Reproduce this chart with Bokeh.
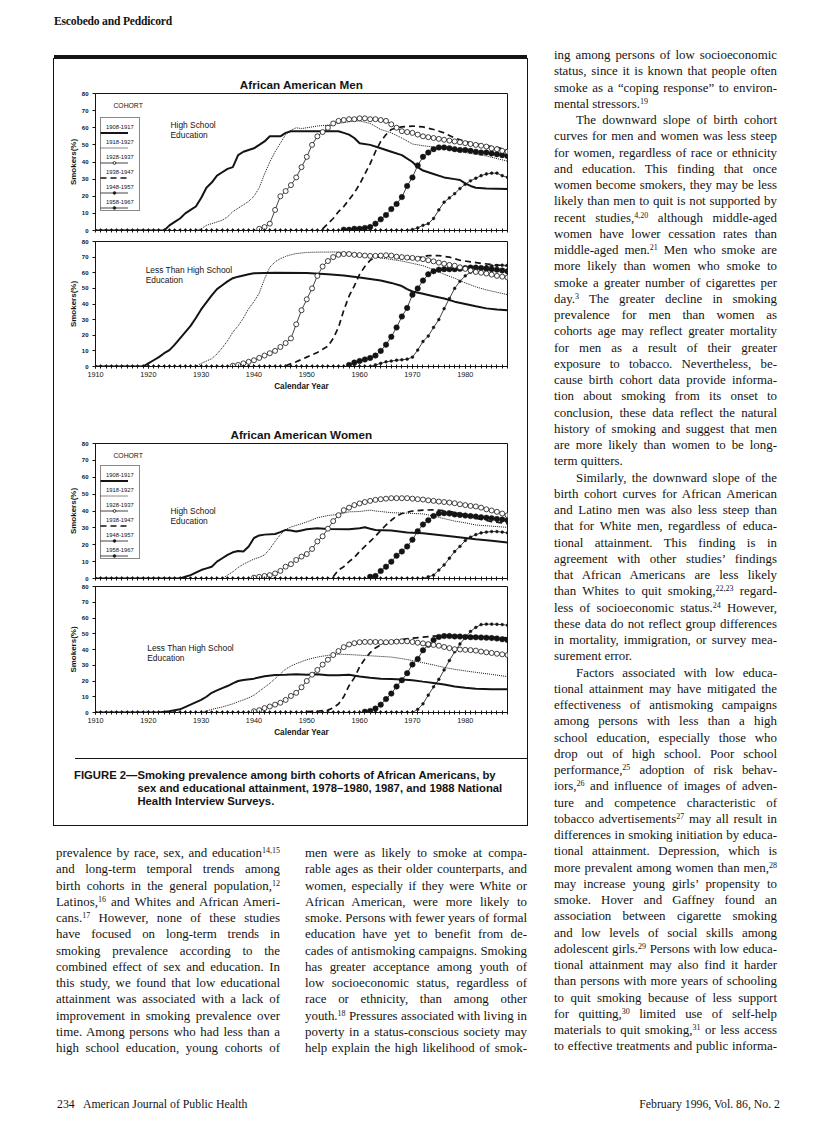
from bokeh.plotting import figure
from bokeh.models import Range1d, FixedTicker, Legend, LegendItem, Label, Div, Spacer
from bokeh.layouts import column, row
from bokeh.embed import file_html
from bokeh.resources import INLINE

INK = "#141414"
SANS = "Liberation Sans"
SERIF = "Liberation Serif"

# ---------------- chart data ----------------
YEARS = list(range(1910, 1989))
X_LABEL_TICKS = [1910, 1920, 1930, 1940, 1950, 1960, 1970, 1980]
Y_TICKS = [0, 10, 20, 30, 40, 50, 60, 70, 80]
COHORTS = ["1908-1917", "1918-1927", "1928-1937", "1938-1947", "1948-1957", "1958-1967"]

# ---- African American men, high school education ----
MEN_HS_1908 = [(1910, 0), (1923, 0), (1924, 3), (1925, 5), (1926, 7), (1927, 10), (1928, 12), (1929, 14),
               (1930, 19), (1931, 25), (1932, 28), (1933, 32), (1934, 34), (1935, 36), (1936, 37), (1937, 44),
               (1938, 46), (1939, 47), (1940, 48), (1941, 50), (1942, 52), (1943, 55), (1944, 55), (1945, 55),
               (1946, 57), (1947, 58), (1956, 58), (1957, 57), (1958, 56), (1959, 54), (1960, 51), (1962, 50),
               (1964, 48), (1966, 46), (1968, 44), (1970, 40), (1971, 37), (1972, 35), (1974, 33), (1976, 31),
               (1978, 30), (1979, 29.5), (1980, 27.5), (1981, 26), (1982, 25), (1984, 24.5), (1988, 24.3)]
MEN_HS_1918 = [(1910, 0), (1929, 0), (1930, 1), (1931, 3), (1932, 4), (1933, 5), (1934, 6), (1935, 8),
               (1936, 11), (1937, 13), (1938, 15), (1939, 17), (1940, 20), (1941, 25), (1942, 33), (1943, 40),
               (1944, 46), (1945, 51), (1946, 56), (1947, 58.5), (1948, 60), (1949, 59.5), (1950, 60),
               (1951, 60.5), (1952, 61), (1954, 61.5), (1956, 62.5), (1958, 63.5), (1960, 64), (1962, 62.5),
               (1964, 59), (1966, 57), (1968, 54), (1970, 50.5), (1972, 49.5), (1976, 48), (1980, 45.5),
               (1984, 43.5), (1988, 40.5)]
MEN_HS_1928_START = 1941
MEN_HS_1928 = [1, 2, 4, 12, 20, 23, 26.5, 31, 37, 43, 50, 55, 57.5, 60, 62.5, 64, 64.5, 65, 65, 65.5,
               65.5, 65, 65, 64.5, 64, 62, 60, 58, 57.5, 57, 56, 55, 54.5, 54, 53.5, 53, 52.5, 52, 51.5, 51,
               50.5, 50, 49.5, 49, 48, 47.5, 46.5, 46]
MEN_HS_1938 = [(1953, 1), (1954, 4), (1955, 7), (1956, 11), (1957, 14), (1958, 18), (1959, 22), (1960, 27),
               (1961, 33), (1962, 39), (1963, 46), (1964, 52), (1965, 56), (1966, 59), (1967, 60), (1968, 60.5),
               (1970, 61), (1972, 60.5), (1974, 59), (1976, 57), (1978, 54), (1980, 52), (1982, 50.5),
               (1984, 49.5), (1986, 48.5), (1988, 47)]
MEN_HS_1948_START = 1957
MEN_HS_1948 = [0.5, 0.5, 1, 1, 1.5, 2, 4, 6.5, 9, 12.5, 15.5, 19.5, 26, 31, 38, 43, 45.5, 47.5, 48.5, 48.5,
               48, 47.5, 47, 47, 46.5, 46, 45.5, 45.5, 45, 44.5, 44, 43.5]
MEN_HS_1958_START = 1910
MEN_HS_1958 = [0, 0, 0, 0, 0, 0, 0, 0, 0, 0, 0, 0, 0, 0, 0, 0, 0, 0, 0, 0,
               0, 0, 0, 0, 0, 0, 0, 0, 0, 0, 0, 0, 0, 0, 0, 0, 0, 0, 0, 0,
               0, 0, 0, 0, 0, 0, 0, 0, 0, 0, 0, 0, 0, 0, 0, 0, 0, 0, 0, 0,
               0.5, 1.5, 3, 4, 7, 12, 16.5, 19, 21.5, 24.5, 27, 29, 30.5, 32, 33, 33.5, 33.5, 32, 31]

# ---- African American men, less than high school ----
MEN_LHS_1908 = [(1910, 0), (1919, 0), (1920, 2), (1921, 4), (1922, 6), (1923, 8.5), (1924, 10.5), (1925, 14),
                (1926, 18), (1927, 22), (1928, 26), (1929, 31), (1930, 36.5), (1931, 41), (1932, 45.5),
                (1933, 49.5), (1934, 52), (1935, 54.5), (1936, 56.5), (1937, 57.5), (1938, 58.3), (1939, 59),
                (1940, 59.7), (1944, 60), (1950, 59.8), (1954, 59), (1957, 58.3), (1960, 57), (1962, 56),
                (1964, 55), (1966, 53.5), (1968, 51.5), (1969, 49.5), (1970, 48), (1972, 46.5), (1974, 45),
                (1976, 43.5), (1978, 41.5), (1980, 40), (1982, 38.5), (1984, 37.2), (1986, 36.5), (1988, 36)]
MEN_LHS_1918 = [(1910, 0), (1929, 0), (1930, 2), (1931, 3.5), (1932, 5), (1933, 8), (1934, 12), (1935, 16.5),
                (1936, 22), (1937, 26), (1938, 31), (1939, 37), (1940, 41.5), (1941, 47), (1942, 56),
                (1943, 63.5), (1944, 67), (1945, 69), (1946, 70.5), (1947, 71.5), (1948, 72.3), (1950, 73),
                (1952, 73.2), (1956, 73.3), (1958, 72.5), (1960, 71.5), (1962, 71), (1964, 69.5), (1966, 68.5),
                (1968, 67.5), (1970, 66), (1972, 64.5), (1974, 62), (1976, 59), (1978, 56.5), (1980, 53.5),
                (1982, 51), (1984, 49), (1986, 47.5), (1988, 46)]
MEN_LHS_1928_START = 1936
MEN_LHS_1928 = [0.5, 1, 2, 3, 4, 5.5, 7, 8.5, 10, 12.5, 15, 18, 27, 36, 43, 50, 58, 64, 67.5, 70,
                71.5, 72, 72, 71.5, 71.3, 71, 70.8, 70.8, 71, 71.2, 71, 70.3, 70, 69.7, 69.5, 69, 68.7, 68,
                67.3, 66.5, 65.8, 65, 64.5, 63.5, 62.5, 61.5, 60.5, 60, 59.5, 58.8, 58, 57.5, 57]
MEN_LHS_1938 = [(1946, 0.5), (1948, 3), (1950, 6), (1952, 9), (1953, 11), (1954, 13), (1955, 18), (1956, 25),
                (1957, 36), (1958, 45), (1959, 51.6), (1960, 59), (1961, 64), (1962, 68), (1963, 70),
                (1965, 70.8), (1967, 70), (1969, 69), (1971, 69.5), (1973, 71), (1975, 71), (1977, 70),
                (1979, 68), (1981, 67), (1983, 66), (1985, 65.3), (1988, 64.4)]
MEN_LHS_1948_START = 1958
MEN_LHS_1948 = [1, 2.5, 3.5, 4.5, 5.5, 7, 10, 14, 19, 25, 32, 37.5, 46, 50, 55, 59, 61, 62, 62.3, 62.3,
                62.3, 62.5, 63, 63.3, 63.3, 63, 62.5, 62.3, 62, 61.5, 61]
MEN_LHS_1958_START = 1910
MEN_LHS_1958 = [0, 0, 0, 0, 0, 0, 0, 0, 0, 0, 0, 0, 0, 0, 0, 0, 0, 0, 0, 0,
                0, 0, 0, 0, 0, 0, 0, 0, 0, 0, 0, 0, 0, 0, 0, 0, 0, 0, 0, 0,
                0, 0, 0, 0, 0, 0, 0, 0, 0, 0, 0, 0, 0,
                1, 2, 3, 3.5, 4, 4.3, 4.7, 6, 10.5, 16, 19.5, 25, 30, 37, 43.5, 50, 54.5, 58, 60.3, 62,
                63.3, 64, 64.4, 64.6, 64.8, 64.8]

# ---- African American women, high school education ----
WOMEN_HS_1908 = [(1910, 0), (1926, 0), (1927, 1), (1928, 2), (1929, 3.5), (1930, 5), (1931, 6), (1932, 7),
                 (1933, 10), (1934, 12), (1935, 14), (1936, 15.5), (1937, 16.3), (1938, 16), (1939, 19),
                 (1940, 24), (1941, 25.5), (1942, 26), (1944, 26.4), (1945, 27.5), (1946, 28.8), (1947, 28.5),
                 (1948, 27.8), (1949, 28.5), (1950, 29.2), (1952, 29.8), (1954, 29.3), (1958, 29.2),
                 (1960, 29.8), (1961, 30.4), (1962, 29.5), (1963, 28.8), (1966, 28.4), (1969, 27.2),
                 (1972, 26.8), (1975, 25.8), (1978, 24.8), (1980, 24), (1982, 23.2), (1985, 22.4), (1988, 21.3)]
WOMEN_HS_1918 = [(1910, 0), (1934, 0), (1935, 2), (1936, 4), (1937, 6.5), (1938, 8.5), (1939, 10),
                 (1940, 11.5), (1941, 12.5), (1942, 14), (1943, 17.5), (1944, 22), (1945, 26), (1946, 29),
                 (1947, 30.5), (1948, 31.5), (1950, 33.5), (1952, 36), (1954, 37.3), (1956, 38), (1958, 39.5),
                 (1960, 39.7), (1962, 40.5), (1963, 40), (1964, 39.7), (1966, 39), (1969, 38.7), (1972, 38.3),
                 (1974, 37), (1976, 35.5), (1978, 34), (1980, 33), (1982, 31.7), (1985, 31), (1988, 30.3)]
WOMEN_HS_1928_START = 1940
WOMEN_HS_1928 = [0.5, 1, 1.5, 2, 3, 4.5, 7, 8.5, 11, 13, 14.5, 17.5, 22, 25, 29.5, 34, 37.5, 40.5, 42, 43.5,
                 44.5, 45.3, 46, 46.6, 47, 47.3, 47.6, 47.6, 47.6, 47.6, 47.3, 47, 46.8, 46.3, 46, 45.6, 45.3,
                 45, 44.6, 44, 43.5, 43, 42.7, 42, 41, 40.3, 39.5, 38.5, 37.5]
WOMEN_HS_1938 = [(1955, 1), (1956, 5), (1957, 7), (1958, 10), (1959, 12.5), (1960, 16), (1961, 19), (1962, 22),
                 (1963, 25), (1964, 28.5), (1965, 31.7), (1966, 34.5), (1967, 37), (1968, 38.5), (1970, 40),
                 (1972, 40.5), (1974, 40.7), (1976, 40.2), (1978, 39.3), (1980, 37.5), (1982, 35.7),
                 (1985, 33.7), (1988, 32.5)]
WOMEN_HS_1948_START = 1962
WOMEN_HS_1948 = [1, 1.5, 4.5, 7, 10, 13.5, 16, 19, 23, 28, 32, 34.5, 37, 38.5, 38.7, 38.5, 38, 37.7, 37.3, 37,
                 36.7, 36.3, 36, 35.7, 35.3, 35, 34.5]
WOMEN_HS_1958_START = 1910
WOMEN_HS_1958 = [0, 0, 0, 0, 0, 0, 0, 0, 0, 0, 0, 0, 0, 0, 0, 0, 0, 0, 0, 0,
                 0, 0, 0, 0, 0, 0, 0, 0, 0, 0, 0, 0, 0, 0, 0, 0, 0, 0, 0, 0,
                 0, 0, 0, 0, 0, 0, 0, 0, 0, 0, 0, 0, 0, 0, 0, 0, 0, 0, 0, 0, 0, 0, 0,
                 1, 2, 5, 8, 12, 16, 19, 22.5, 24.5, 26, 27, 27.5, 27.8, 27.8, 27.5, 27]

# ---- African American women, less than high school ----
WOMEN_LHS_1908 = [(1910, 0), (1922, 0), (1924, 0.8), (1926, 2), (1928, 5), (1930, 8), (1931, 10), (1932, 12.5),
                  (1933, 14), (1934, 15.5), (1935, 16.8), (1936, 18.5), (1937, 20), (1938, 20.7), (1940, 21.5),
                  (1942, 23), (1944, 23.8), (1946, 24), (1948, 24.3), (1950, 24), (1952, 24.3), (1954, 23.6),
                  (1956, 23.7), (1958, 23.9), (1960, 22.8), (1962, 22), (1964, 21.5), (1966, 21.3), (1968, 21),
                  (1970, 20.5), (1972, 19.6), (1974, 18.8), (1976, 17.8), (1978, 16.5), (1980, 15.7),
                  (1982, 15.1), (1985, 14.8), (1988, 14.8)]
WOMEN_LHS_1918 = [(1910, 0), (1930, 0), (1931, 1), (1932, 2), (1934, 3.5), (1936, 5.5), (1937, 6.8), (1938, 8),
                  (1939, 9.3), (1940, 11), (1941, 13.5), (1942, 16), (1943, 18.5), (1944, 21.5), (1945, 24.5),
                  (1946, 27.5), (1947, 29.5), (1948, 31), (1950, 33.5), (1952, 35.2), (1954, 36.3), (1956, 37),
                  (1958, 36.8), (1960, 36.4), (1962, 36), (1964, 35.6), (1966, 35.2), (1968, 34.2), (1970, 33),
                  (1972, 31.6), (1974, 30.2), (1976, 28.6), (1978, 27.4), (1980, 26.4), (1982, 25.5),
                  (1985, 24.2), (1988, 22.8)]
WOMEN_LHS_1928_START = 1940
WOMEN_LHS_1928 = [0.8, 1.5, 2.8, 3.8, 5, 6.2, 8, 10.5, 12.5, 16, 20, 24, 27, 30.4, 33.5, 36.5, 39, 41.5, 43.2,
                  44, 44.6, 44.8, 44.8, 44.8, 44.7, 44.6, 44.8, 45, 45.2, 45.2, 44.8, 44.3, 43.9, 43.4, 42.9,
                  42.4, 41.6, 40.9, 40.2, 40, 39.8, 39.6, 39.3, 38.7, 38.2, 37.8, 37.3, 36.9, 36.5]
WOMEN_LHS_1938 = [(1950, 0.5), (1952, 0.8), (1954, 1.5), (1955, 3), (1956, 5.4), (1957, 10), (1958, 17),
                  (1959, 22), (1960, 29), (1961, 34), (1962, 38), (1963, 41), (1964, 43), (1966, 45),
                  (1968, 46.3), (1970, 47.2), (1972, 47.8), (1974, 48.5), (1976, 48.9), (1978, 48.9),
                  (1980, 48.6), (1982, 48.2), (1985, 47.8), (1988, 47.4)]
WOMEN_LHS_1948_START = 1961
WOMEN_LHS_1948 = [0.5, 1, 2.5, 5, 8.5, 12, 16.5, 20.5, 25, 30.5, 34, 39.5, 43, 46, 48, 48.5, 48.5, 48.3, 48.2,
                  48, 47.8, 47.7, 47.6, 47.5, 47.3, 47, 46.5, 46]
WOMEN_LHS_1958_START = 1910
WOMEN_LHS_1958 = [0, 0, 0, 0, 0, 0, 0, 0, 0, 0, 0, 0, 0, 0, 0, 0, 0, 0, 0, 0,
                  0, 0, 0, 0, 0, 0, 0, 0, 0, 0, 0, 0, 0, 0, 0, 0, 0, 0, 0, 0,
                  0, 0, 0, 0, 0, 0, 0, 0, 0, 0, 0, 0, 0, 0, 0, 0, 0, 0, 0, 0, 0,
                  2, 5.5, 11, 16.3, 21, 27, 33, 38.5, 43.5, 47.5, 51.5, 54, 55.8, 56.1, 56.1, 56, 55.8, 55.4]

# ---------------- page text ----------------
HEADER = "Escobedo and Peddicord"
CAPTION_LEAD = "FIGURE 2\u2014"
CAPTION_LINES = ["Smoking prevalence among birth cohorts of African Americans, by",
                 "sex and educational attainment, 1978\u20131980, 1987, and 1988 National",
                 "Health Interview Surveys."]
FOOTER_LEFT = "234&nbsp;&nbsp; American Journal of Public Health"
FOOTER_RIGHT = "February 1996, Vol. 86, No. 2"

COL1 = ["prevalence by race, sex, and education<sup>14,15</sup>",
        "and long-term temporal trends among",
        "birth cohorts in the general population,<sup>12</sup>",
        "Latinos,<sup>16</sup> and Whites and African Ameri-",
        "cans.<sup>17</sup> However, none of these studies",
        "have focused on long-term trends in",
        "smoking prevalence according to the",
        "combined effect of sex and education. In",
        "this study, we found that low educational",
        "attainment was associated with a lack of",
        "improvement in smoking prevalence over",
        "time. Among persons who had less than a",
        "high school education, young cohorts of"]
COL2 = ["men were as likely to smoke at compa-",
        "rable ages as their older counterparts, and",
        "women, especially if they were White or",
        "African American, were more likely to",
        "smoke. Persons with fewer years of formal",
        "education have yet to benefit from de-",
        "cades of antismoking campaigns. Smoking",
        "has greater acceptance among youth of",
        "low socioeconomic status, regardless of",
        "race or ethnicity, than among other",
        "youth.<sup>18</sup> Pressures associated with living in",
        "poverty in a status-conscious society may",
        "help explain the high likelihood of smok-"]
COL3 = ["ing among persons of low socioeconomic",
        "status, since it is known that people often",
        "smoke as a \u201ccoping response\u201d to environ-",
        "mental stressors.<sup>19</sup>|",
        ">The downward slope of birth cohort",
        "curves for men and women was less steep",
        "for women, regardless of race or ethnicity",
        "and education. This finding that once",
        "women become smokers, they may be less",
        "likely than men to quit is not supported by",
        "recent studies,<sup>4,20</sup> although middle-aged",
        "women have lower cessation rates than",
        "middle-aged men.<sup>21</sup> Men who smoke are",
        "more likely than women who smoke to",
        "smoke a greater number of cigarettes per",
        "day.<sup>3</sup> The greater decline in smoking",
        "prevalence for men than women as",
        "cohorts age may reflect greater mortality",
        "for men as a result of their greater",
        "exposure to tobacco. Nevertheless, be-",
        "cause birth cohort data provide informa-",
        "tion about smoking from its onset to",
        "conclusion, these data reflect the natural",
        "history of smoking and suggest that men",
        "are more likely than women to be long-",
        "term quitters.|",
        ">Similarly, the downward slope of the",
        "birth cohort curves for African American",
        "and Latino men was also less steep than",
        "that for White men, regardless of educa-",
        "tional attainment. This finding is in",
        "agreement with other studies\u2019 findings",
        "that African Americans are less likely",
        "than Whites to quit smoking,<sup>22,23</sup> regard-",
        "less of socioeconomic status.<sup>24</sup> However,",
        "these data do not reflect group differences",
        "in mortality, immigration, or survey mea-",
        "surement error.|",
        ">Factors associated with low educa-",
        "tional attainment may have mitigated the",
        "effectiveness of antismoking campaigns",
        "among persons with less than a high",
        "school education, especially those who",
        "drop out of high school. Poor school",
        "performance,<sup>25</sup> adoption of risk behav-",
        "iors,<sup>26</sup> and influence of images of adven-",
        "ture and competence characteristic of",
        "tobacco advertisements<sup>27</sup> may all result in",
        "differences in smoking initiation by educa-",
        "tional attainment. Depression, which is",
        "more prevalent among women than men,<sup>28</sup>",
        "may increase young girls\u2019 propensity to",
        "smoke. Hover and Gaffney found an",
        "association between cigarette smoking",
        "and low levels of social skills among",
        "adolescent girls.<sup>29</sup> Persons with low educa-",
        "tional attainment may also find it harder",
        "than persons with more years of schooling",
        "to quit smoking because of less support",
        "for quitting,<sup>30</sup> limited use of self-help",
        "materials to quit smoking,<sup>31</sup> or less access",
        "to effective treatments and public informa-"]


def yearly(start, vals):
    return list(range(start, start + len(vals))), list(vals)


def pairs(pts):
    return [p[0] for p in pts], [p[1] for p in pts]


PANELS = {
    "men_hs": dict(A=pairs(MEN_HS_1908), B=pairs(MEN_HS_1918), C=yearly(MEN_HS_1928_START, MEN_HS_1928),
                   D=pairs(MEN_HS_1938), E=yearly(MEN_HS_1948_START, MEN_HS_1948),
                   F=yearly(MEN_HS_1958_START, MEN_HS_1958)),
    "men_lhs": dict(A=pairs(MEN_LHS_1908), B=pairs(MEN_LHS_1918), C=yearly(MEN_LHS_1928_START, MEN_LHS_1928),
                    D=pairs(MEN_LHS_1938), E=yearly(MEN_LHS_1948_START, MEN_LHS_1948),
                    F=yearly(MEN_LHS_1958_START, MEN_LHS_1958)),
    "women_hs": dict(A=pairs(WOMEN_HS_1908), B=pairs(WOMEN_HS_1918),
                     C=yearly(WOMEN_HS_1928_START, WOMEN_HS_1928), D=pairs(WOMEN_HS_1938),
                     E=yearly(WOMEN_HS_1948_START, WOMEN_HS_1948), F=yearly(WOMEN_HS_1958_START, WOMEN_HS_1958)),
    "women_lhs": dict(A=pairs(WOMEN_LHS_1908), B=pairs(WOMEN_LHS_1918),
                      C=yearly(WOMEN_LHS_1928_START, WOMEN_LHS_1928), D=pairs(WOMEN_LHS_1938),
                      E=yearly(WOMEN_LHS_1948_START, WOMEN_LHS_1948),
                      F=yearly(WOMEN_LHS_1958_START, WOMEN_LHS_1958)),
}


def panel(d, height, top, bottom, title=None, show_x=False, notes=(), note_x=1924.2, note_y=(61.5, 55.5)):
    p = figure(width=473, height=height, x_range=Range1d(1910, 1988), y_range=Range1d(0, 80),
               output_backend="svg", toolbar_location=None,
               min_border_left=41, min_border_right=20, min_border_top=top, min_border_bottom=bottom)
    p.xgrid.visible = False
    p.ygrid.visible = False
    p.outline_line_color = INK
    p.outline_line_width = 1
    p.background_fill_color = "white"
    p.border_fill_color = "white"
    if title:
        p.title.text = title
        p.title.align = "center"
        p.title.text_font = SANS
        p.title.text_font_style = "bold"
        p.title.text_font_size = "11.7px"
        p.title.text_color = INK
        p.title.standoff = 6
        p.title.offset = -6

    xa = p.xaxis[0]
    xa.axis_line_color = INK
    xa.major_tick_line_color = INK
    xa.minor_tick_line_color = INK
    xa.major_tick_in = 2
    xa.major_tick_out = 2
    xa.minor_tick_in = 2
    xa.minor_tick_out = 2
    if show_x:
        xa.ticker = FixedTicker(ticks=X_LABEL_TICKS, minor_ticks=YEARS)
        xa.major_label_text_font = SANS
        xa.major_label_text_font_size = "7.3px"
        xa.major_label_text_color = INK
        xa.major_label_standoff = 3
        xa.axis_label = "Calendar Year"
        xa.axis_label_text_font = SANS
        xa.axis_label_text_font_style = "bold"
        xa.axis_label_text_font_size = "8.2px"
        xa.axis_label_text_color = INK
        xa.axis_label_standoff = 2
    else:
        xa.ticker = FixedTicker(ticks=[], minor_ticks=YEARS)
        xa.major_label_standoff = 0

    ya = p.yaxis[0]
    ya.ticker = FixedTicker(ticks=Y_TICKS)
    ya.axis_line_color = INK
    ya.major_tick_line_color = INK
    ya.minor_tick_line_color = None
    ya.major_tick_in = 0
    ya.major_tick_out = 3
    ya.major_label_text_font = SANS
    ya.major_label_text_font_size = "6px"
    ya.major_label_text_font_style = "bold"
    ya.major_label_text_color = INK
    ya.major_label_standoff = 4
    ya.axis_label = "Smokers(%)"
    ya.axis_label_text_font = SANS
    ya.axis_label_text_font_style = "bold"
    ya.axis_label_text_font_size = "8px"
    ya.axis_label_text_color = INK
    ya.axis_label_standoff = 1

    ax, ay = d["A"]
    bx, by = d["B"]
    cx, cy = d["C"]
    dx, dy = d["D"]
    ex, ey = d["E"]
    fx, fy = d["F"]
    rF = p.line(fx, fy, line_color=INK, line_width=0.8)
    sF = p.scatter(fx, fy, marker="circle", size=2.8, fill_color=INK, line_color=INK, line_width=0.5)
    rE = p.line(ex, ey, line_color=INK, line_width=0.8)
    sE = p.scatter(ex, ey, marker="circle", size=5.5, fill_color=INK, line_color=INK, line_width=0.5)
    rD = p.line(dx, dy, line_color=INK, line_width=1.7, line_dash="6 4")
    rB = p.line(bx, by, line_color=INK, line_width=1.0, line_dash="1 1")
    rA = p.line(ax, ay, line_color=INK, line_width=2.0)
    rC = p.line(cx, cy, line_color=INK, line_width=0.8)
    sC = p.scatter(cx, cy, marker="circle", size=5, fill_color="white", line_color=INK, line_width=0.8)

    if title:
        # legend as in the original: cohort label on one row, its line sample just below it.
        # Box + labels in one legend, the samples in a transparent legend laid over it.
        blank = p.line([], [], line_alpha=0)
        samples = [[rA], [rB], [rC, sC], [rD], [rE, sE], [rF, sF]]
        leg_labels = Legend(items=[LegendItem(label=lab, renderers=[blank]) for lab in COHORTS],
                            location=(5, 19), orientation="vertical",
                            label_text_font=SANS, label_text_font_size="5.8px", label_text_color=INK,
                            glyph_width=0, glyph_height=7, label_height=7, label_standoff=0,
                            spacing=8, padding=5, margin=0, border_line_color=INK, border_line_width=1,
                            background_fill_color="white", background_fill_alpha=1)
        leg_samples = Legend(items=[LegendItem(label=" ", renderers=rs) for rs in samples],
                             location=(5, 19), orientation="vertical",
                             label_text_font=SANS, label_text_font_size="5.8px",
                             glyph_width=28, glyph_height=7, label_height=7, label_standoff=0,
                             spacing=8, padding=5, margin=0, border_line_color=None,
                             background_fill_alpha=0)
        p.add_layout(leg_labels)
        p.add_layout(leg_samples)
        p.add_layout(Label(x=1913.4, y=73, text="COHORT", text_font=SANS, text_font_size="6.8px",
                           text_color=INK, text_baseline="middle"))

    for txt, yv in zip(notes, note_y):
        p.add_layout(Label(x=note_x, y=yv, text=txt, text_font=SANS, text_font_size="8.4px",
                           text_color=INK, text_baseline="middle"))
    return p


p1 = panel(PANELS["men_hs"], 176, 34, 5, title="African American Men",
           notes=("High School", "Education"), note_x=1924.2, note_y=(61.5, 55.5))
p2 = panel(PANELS["men_lhs"], 172, 6, 41, show_x=True,
           notes=("Less Than High School", "Education"), note_x=1919.5, note_y=(62, 55.5))
p3 = panel(PANELS["women_hs"], 175, 36, 4, title="African American Women",
           notes=("High School", "Education"), note_x=1924.2, note_y=(40, 34))
p4 = panel(PANELS["women_lhs"], 165, 4, 35, show_x=True,
           notes=("Less Than High School", "Education"), note_x=1919.8, note_y=(41, 34.7))

caption = Div(width=473, height=78, margin=0, text=(
    f'<div style="position:relative;width:473px;height:78px;">'
    f'<div style="position:absolute;left:21px;width:452px;top:11px;height:0;border-top:1.3px solid {INK};"></div>'
    f'<div style="position:absolute;left:20px;top:22px;display:flex;font-family:\'{SANS}\';font-weight:bold;'
    f'font-size:11.3px;line-height:13px;color:{INK};white-space:nowrap;">'
    f'<div>{CAPTION_LEAD}</div><div>{"<br>".join(CAPTION_LINES)}</div></div></div>'))

box = column(p1, p2, p3, p4, caption,
             styles={"outline": f"1.3px solid {INK}", "box-shadow": f"0 -4px 0 0 {INK}"})

SUP = '<span style="font-size:8px;line-height:0;vertical-align:4px;">'


def text_html(lines, width):
    parts = []
    for ln in lines:
        indent = ln.startswith(">")
        end = ln.endswith("|")
        if indent:
            ln = ln[1:]
        if end:
            ln = ln[:-1]
        ln = ln.replace("<sup>", SUP).replace("</sup>", "</span>")
        st = "white-space:nowrap;height:16.25px;"
        st += "text-align:left;" if end else "text-align:justify;text-align-last:justify;"
        if indent:
            st += "text-indent:22px;"
        parts.append(f'<div style="{st}">{ln}</div>')
    return (f'<div style="width:{width}px;font-family:\'{SERIF}\';font-size:12.9px;line-height:16.25px;'
            f'color:{INK};">' + "".join(parts) + "</div>")


col1 = Div(width=224, height=210, margin=0, text=text_html(COL1, 224))
col2 = Div(width=222, height=210, margin=0, text=text_html(COL2, 222))
col3 = Div(width=223, height=1008, margin=0, text=text_html(COL3, 223))

header = Div(width=800, height=47, margin=0, text=(
    f'<div style="padding-left:54px;padding-top:14px;font-family:\'{SERIF}\';font-weight:bold;'
    f'font-size:11.6px;letter-spacing:-0.2px;color:{INK};">{HEADER}</div>'))

footer = Div(width=800, height=62, margin=0, text=(
    f'<div style="position:relative;width:800px;height:62px;font-family:\'{SERIF}\';font-size:11.8px;'
    f'color:{INK};">'
    f'<div style="position:absolute;left:57px;top:41px;">{FOOTER_LEFT}</div>'
    f'<div style="position:absolute;right:20px;top:41px;">{FOOTER_RIGHT}</div></div>'))

lower = row(Spacer(width=2, height=210), col1, Spacer(width=25, height=210), col2)
left = column(Spacer(width=473, height=12), box, Spacer(width=473, height=20), lower)
main = row(Spacer(width=54, height=1008), left, Spacer(width=27, height=1008), col3)
page = column(header, main, footer)

open("out.html", "w").write(file_html(page, INLINE, title="Smoking prevalence among birth cohorts"))
